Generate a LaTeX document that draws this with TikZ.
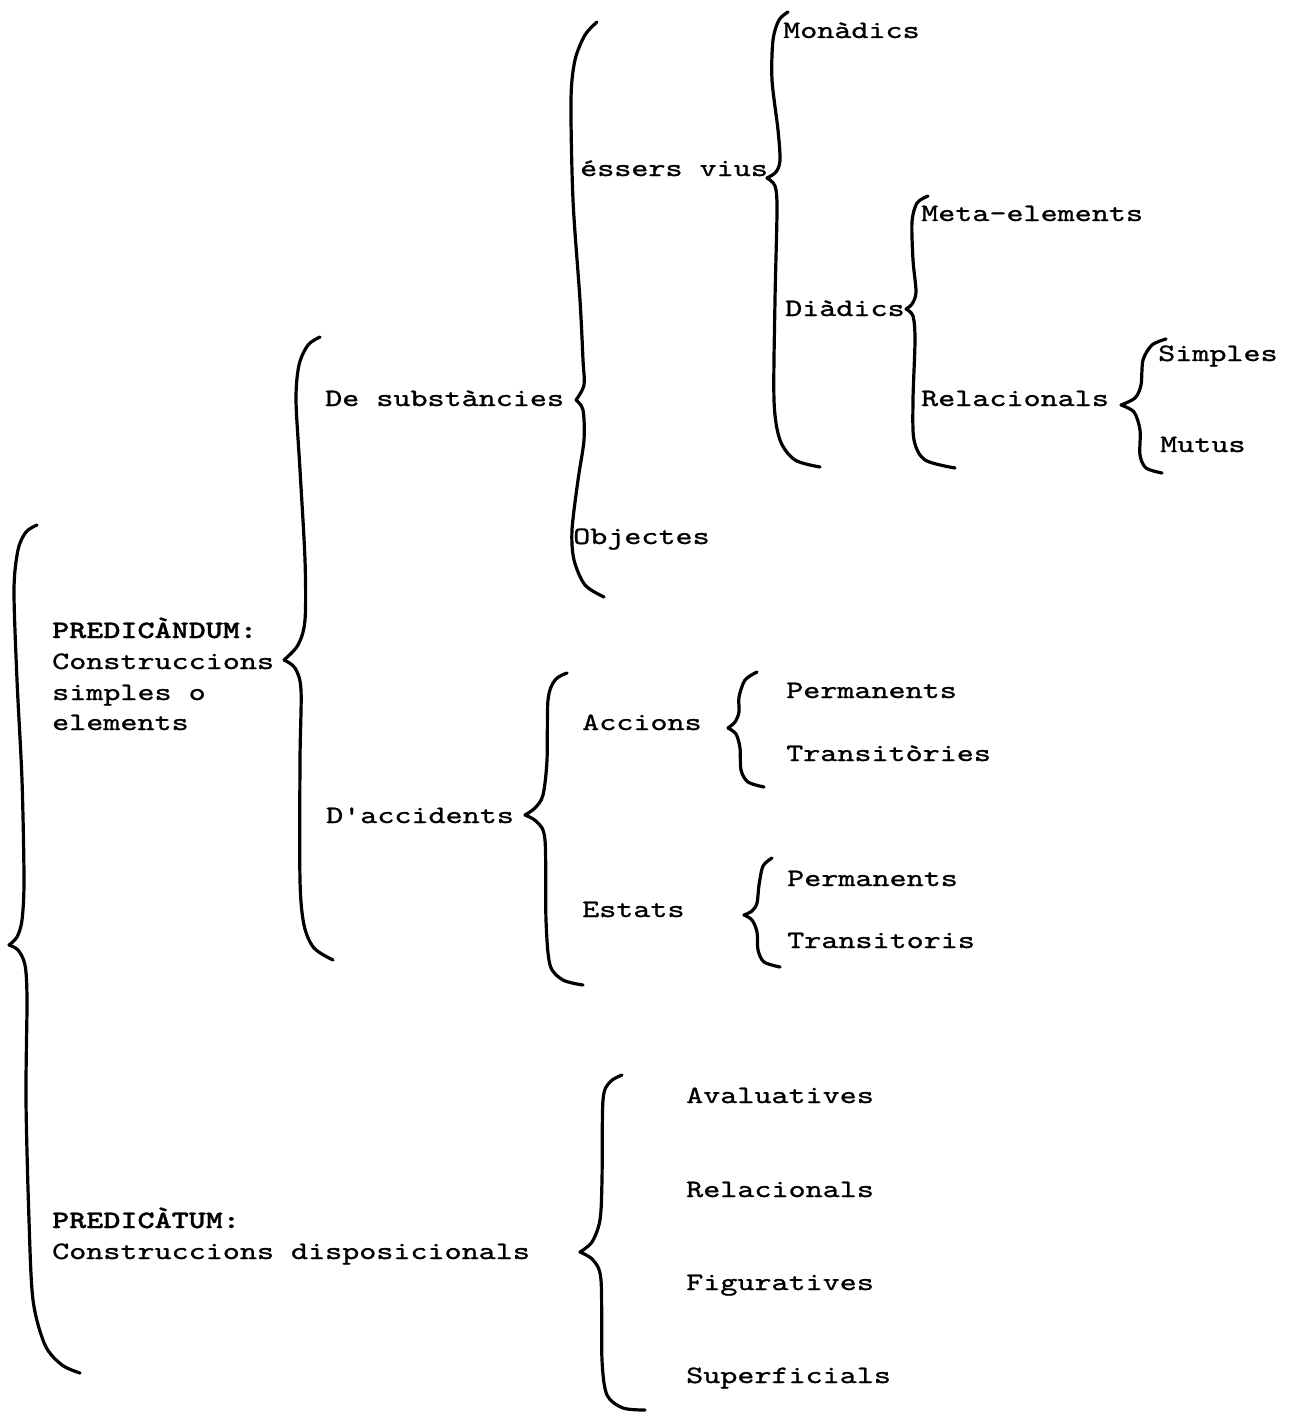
\documentclass[tikz,border=0pt]{standalone}
\usepackage{fontspec}
\newfontfamily\tw{lmmono10-regular.otf}[FakeStretch=1.3, FakeBold=1, BoldFont=lmmonolt10-bold.otf]
\begin{document}
\begin{tikzpicture}[x=1pt,y=-1pt,
  lbl/.style={anchor=base west, inner sep=0pt, font=\tw\fontsize{25}{31}\selectfont},
  bold/.style={font=\tw\bfseries\fontsize{25}{31}\selectfont},
  brace/.style={line width=3.2pt, line cap=round, line join=round}]
\useasboundingbox (0,0) rectangle (1298,1413);

% ---------- texts ----------
\node[lbl] (monadics) at (783,38) {Monàdics};
\node[lbl] (essers)   at (580,176) {éssers vius};
\node[lbl] (meta)     at (921,221) {Meta-elements};
\node[lbl] (diadics)  at (785,316) {Diàdics};
\node[lbl] (simples)  at (1158,361) {Simples};
\node[lbl] (desubst)  at (325,406) {De substàncies};
\node[lbl] (relac1)   at (921,406) {Relacionals};
\node[lbl] (mutus)    at (1160,452) {Mutus};
\node[lbl] (objectes) at (573,544) {Objectes};
\node[lbl,bold] (pnd) at (52,638) {PREDICÀNDUM:};
\node[lbl] (pnd1)     at (52,669) {Construccions};
\node[lbl] (pnd2)     at (52,700) {simples o};
\node[lbl] (pnd3)     at (52,730) {elements};
\node[lbl] (perm1)    at (786,698) {Permanents};
\node[lbl] (accions)  at (582,730) {Accions};
\node[lbl] (trans1)   at (786,761) {Transitòries};
\node[lbl] (dacc)     at (326,823) {D'accidents};
\node[lbl] (perm2)    at (787,886) {Permanents};
\node[lbl] (estats)   at (582,917) {Estats};
\node[lbl] (trans2)   at (787,948) {Transitoris};
\node[lbl] (aval)     at (686,1103) {Avaluatives};
\node[lbl] (relac2)   at (686,1197) {Relacionals};
\node[lbl,bold] (ptm) at (52,1228) {PREDICÀTUM:};
\node[lbl] (ptm1)     at (52,1259) {Construccions disposicionals};
\node[lbl] (figur)    at (686,1290) {Figuratives};
\node[lbl] (superf)   at (686,1383) {Superficials};

% ---------- braces ----------
% B1 big
\draw[brace] plot[smooth,tension=0.5] coordinates {(37,525) (26,532) (18,550) (14,590) (17,680) (22,780) (24,880) (22,920) (17,937) (9,945)};
\draw[brace] plot[smooth,tension=0.5] coordinates {(9,945) (18,950) (25,965) (27,1000) (26,1100) (29,1220) (33,1300) (45,1345) (62,1365) (80,1373)};
% B2
\draw[brace] plot[smooth,tension=0.5] coordinates {(320,337) (308,345) (299,365) (296,400) (300,470) (305,560) (305,620) (298,645) (284,660)};
\draw[brace] plot[smooth,tension=0.5] coordinates {(284,660) (295,668) (301,690) (300,760) (300,880) (304,925) (314,948) (333,960)};
% B3
\draw[brace] plot[smooth,tension=0.5] coordinates {(597,22) (585,35) (575,60) (571,100) (573,200) (580,300) (583,360) (584,385) (576,400)};
\draw[brace] plot[smooth,tension=0.5] coordinates {(576,400) (583,410) (584,440) (578,480) (572,530) (574,560) (585,585) (604,597)};
% B4
\draw[brace] plot[smooth,tension=0.5] coordinates {(788,12) (779,20) (773,40) (772,80) (778,130) (780,160) (776,172) (767,178)};
\draw[brace] plot[smooth,tension=0.5] coordinates {(767,178) (775,186) (777,210) (775,300) (774,400) (780,440) (795,460) (820,467)};
% B5
\draw[brace] plot[smooth,tension=0.5] coordinates {(928,196) (917,203) (912,222) (913,260) (916,292) (912,304) (906,309)};
\draw[brace] plot[smooth,tension=0.5] coordinates {(906,309) (913,316) (915,340) (913,400) (914,440) (925,460) (955,468)};
% B6
\draw[brace] plot[smooth,tension=0.5] coordinates {(1166,339) (1152,345) (1143,360) (1141,385) (1135,398) (1121,405)};
\draw[brace] plot[smooth,tension=0.5] coordinates {(1121,405) (1134,412) (1140,430) (1140,455) (1146,468) (1162,473)};
% B7
\draw[brace] plot[smooth,tension=0.5] coordinates {(567,673) (555,680) (548,700) (547,760) (543,795) (535,808) (525,815)};
\draw[brace] plot[smooth,tension=0.5] coordinates {(525,815) (537,822) (545,840) (546,920) (550,965) (563,980) (583,985)};
% B8
\draw[brace] plot[smooth,tension=0.5] coordinates {(757,672) (745,680) (739,697) (739,712) (735,722) (728,728)};
\draw[brace] plot[smooth,tension=0.5] coordinates {(728,728) (736,734) (740,748) (741,770) (748,782) (764,787)};
% B9
\draw[brace] plot[smooth,tension=0.5] coordinates {(772,858) (763,866) (759,885) (757,903) (752,911) (744,915)};
\draw[brace] plot[smooth,tension=0.5] coordinates {(744,915) (752,920) (757,932) (758,950) (764,962) (780,967)};
% B10
\draw[brace] plot[smooth,tension=0.5] coordinates {(622,1075) (610,1082) (603,1100) (602,1180) (600,1220) (592,1242) (580,1252)};
\draw[brace] plot[smooth,tension=0.5] coordinates {(580,1252) (593,1260) (601,1280) (602,1360) (607,1395) (623,1408) (645,1410)};
\end{tikzpicture}
\end{document}
